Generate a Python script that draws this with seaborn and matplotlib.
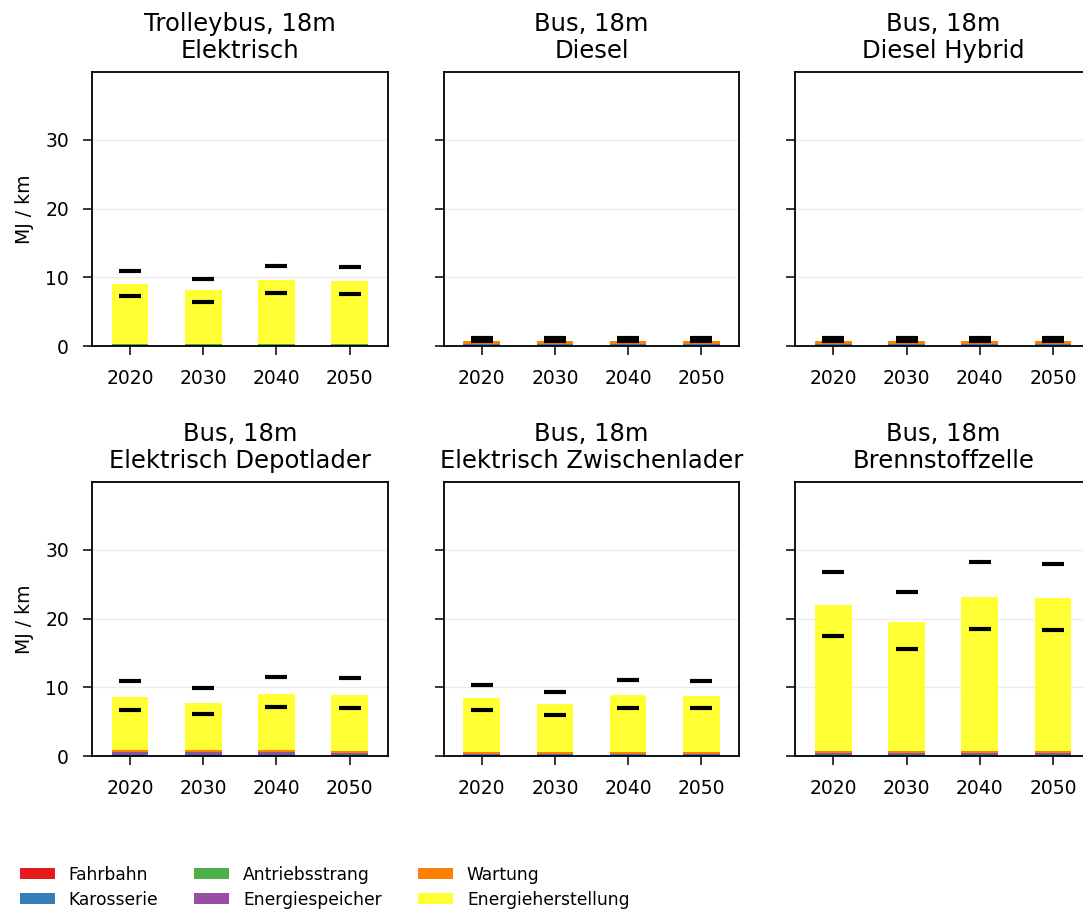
import numpy as np
import pandas as pd
import matplotlib
matplotlib.use("Agg")
import matplotlib.pyplot as plt
from matplotlib.patches import Patch
import seaborn as sns

years = ["2020", "2030", "2040", "2050"]
components = ["Fahrbahn", "Karosserie", "Antriebsstrang",
              "Energiespeicher", "Wartung", "Energieherstellung"]

titles = ["Trolleybus, 18m\nElektrisch", "Bus, 18m\nDiesel", "Bus, 18m\nDiesel Hybrid",
          "Bus, 18m\nElektrisch Depotlader", "Bus, 18m\nElektrisch Zwischenlader",
          "Bus, 18m\nBrennstoffzelle"]

# MJ/km per component (rows in order of `components`), columns = years
trolleybus = [[0.15, 0.15, 0.15, 0.15],
              [0.05, 0.05, 0.05, 0.05],
              [0.05, 0.05, 0.05, 0.05],
              [0.02, 0.02, 0.02, 0.02],
              [0.05, 0.05, 0.05, 0.05],
              [8.66, 7.79, 9.29, 9.15]]
trolleybus_hi = [10.9, 9.75, 11.7, 11.45]
trolleybus_lo = [7.23, 6.45, 7.77, 7.62]

diesel = [[0.15, 0.15, 0.15, 0.15],
          [0.08, 0.08, 0.08, 0.08],
          [0.06, 0.06, 0.06, 0.06],
          [0.00, 0.00, 0.00, 0.00],
          [0.45, 0.45, 0.42, 0.42],
          [0.00, 0.00, 0.00, 0.00]]
diesel_hi = [1.2, 1.2, 1.15, 1.15]
diesel_lo = [0.75, 0.75, 0.72, 0.72]

hybrid = [[0.15, 0.15, 0.15, 0.15],
          [0.08, 0.08, 0.08, 0.08],
          [0.07, 0.07, 0.07, 0.07],
          [0.03, 0.03, 0.03, 0.03],
          [0.42, 0.42, 0.40, 0.40],
          [0.00, 0.00, 0.00, 0.00]]
hybrid_hi = [1.2, 1.2, 1.15, 1.15]
hybrid_lo = [0.75, 0.75, 0.72, 0.72]

depot = [[0.15, 0.15, 0.15, 0.15],
         [0.10, 0.10, 0.10, 0.10],
         [0.05, 0.05, 0.05, 0.05],
         [0.25, 0.25, 0.25, 0.15],
         [0.30, 0.30, 0.30, 0.30],
         [7.70, 6.87, 8.18, 8.18]]
depot_hi = [10.87, 9.9, 11.46, 11.31]
depot_lo = [6.7, 6.12, 7.14, 7.04]

zwischen = [[0.15, 0.15, 0.15, 0.15],
            [0.08, 0.08, 0.08, 0.08],
            [0.05, 0.05, 0.05, 0.05],
            [0.05, 0.05, 0.05, 0.05],
            [0.30, 0.30, 0.30, 0.30],
            [7.77, 6.90, 8.21, 8.11]]
zwischen_hi = [10.39, 9.37, 11.07, 10.92]
zwischen_lo = [6.7, 5.97, 7.04, 7.04]

fuelcell = [[0.15, 0.15, 0.15, 0.15],
            [0.10, 0.10, 0.10, 0.10],
            [0.10, 0.10, 0.10, 0.10],
            [0.05, 0.05, 0.05, 0.05],
            [0.35, 0.33, 0.33, 0.30],
            [21.24, 18.78, 22.47, 22.30]]
fuelcell_hi = [26.8, 23.84, 28.2, 28.0]
fuelcell_lo = [17.52, 15.63, 18.54, 18.4]

stacks = [trolleybus, diesel, hybrid, depot, zwischen, fuelcell]
highs = [trolleybus_hi, diesel_hi, hybrid_hi, depot_hi, zwischen_hi, fuelcell_hi]
lows = [trolleybus_lo, diesel_lo, hybrid_lo, depot_lo, zwischen_lo, fuelcell_lo]

sns.set_style("ticks", {"axes.grid": True, "grid.color": "#ebebeb",
                        "axes.edgecolor": "black", "text.color": "black",
                        "axes.labelcolor": "black", "xtick.color": "black",
                        "ytick.color": "black"})
plt.rcParams["font.family"] = ["DejaVu Sans"]
colors = sns.color_palette("Set1", 6)

fig, axes = plt.subplots(2, 3, figsize=(10.83, 9.1), dpi=100, sharey=True)
fig.subplots_adjust(left=92 / 1083, right=1091 / 1083, top=1 - 72 / 910,
                    bottom=1 - 756 / 910, wspace=0.189, hspace=0.496)

for ax, title, stack, hi, lo in zip(axes.flat, titles, stacks, highs, lows):
    cum = np.cumsum(np.array(stack), axis=0)
    # draw from the full stack downwards so each layer covers the one below
    for k in range(len(components) - 1, -1, -1):
        df = pd.DataFrame({"year": years, "value": cum[k]})
        sns.barplot(data=df, x="year", y="value", color=colors[k], width=0.5,
                    saturation=1, errorbar=None, ax=ax, linewidth=0)
    sns.scatterplot(x=years, y=hi, marker="_", s=260, linewidth=3,
                    color="black", ax=ax, zorder=5, legend=False)
    sns.scatterplot(x=years, y=lo, marker="_", s=260, linewidth=3,
                    color="black", ax=ax, zorder=5, legend=False)
    ax.set_title(title, fontsize=17.5, linespacing=1.15, color="black", pad=10.3)
    ax.set_xlim(-0.52, 3.52)
    ax.set_ylim(0, 39.9)
    ax.set_yticks([0, 10, 20, 30])
    ax.grid(axis="x", visible=False)
    ax.set_xlabel("")
    ax.set_ylabel("")
    ax.tick_params(labelsize=13.5, length=6.5, width=1.1, color="black",
                   labelcolor="black", pad=10)
    for sp in ax.spines.values():
        sp.set_linewidth(1.3)
        sp.set_color("black")
    ax.set_axisbelow(True)

for ax in axes[:, 0]:
    ax.set_ylabel("MJ / km", fontsize=13.5, color="black", labelpad=8)

handles = [Patch(facecolor=c, edgecolor="none") for c in colors]
fig.legend(handles, components, loc="upper left", bbox_to_anchor=(0.004, 0.0655),
           ncol=3, frameon=False, fontsize=12.3, handlelength=2.05,
           handleheight=0.6, handletextpad=0.82, columnspacing=2.1,
           labelspacing=0.4)

fig.savefig("out.png", dpi=100)
